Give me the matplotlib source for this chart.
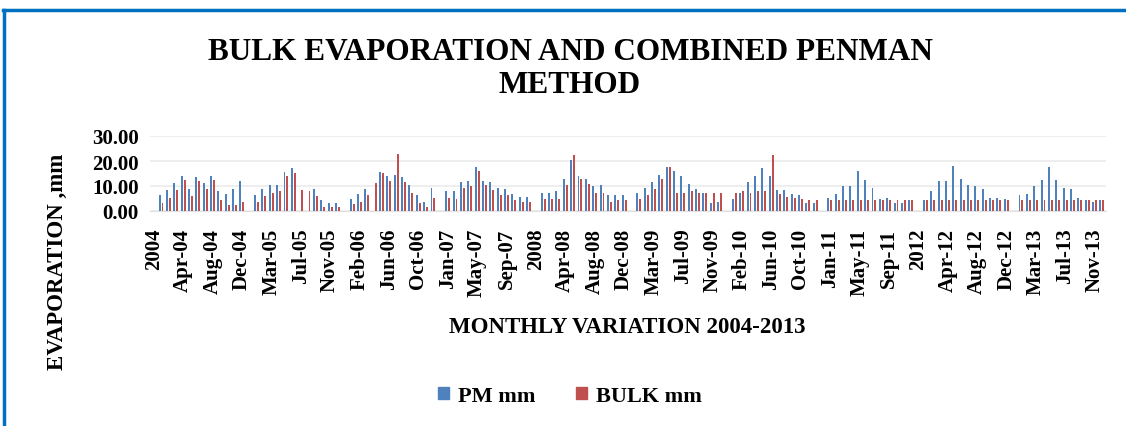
import numpy as np
import matplotlib
matplotlib.use("Agg")
import matplotlib.pyplot as plt
from matplotlib.patches import Patch
from matplotlib.lines import Line2D

nan = np.nan
years = [2004, 2005, 2006, 2007, 2008, 2009, 2010, 2011, 2012, 2013]
months = ["Jan", "Feb", "Mar", "Apr", "May", "Jun",
          "Jul", "Aug", "Sep", "Oct", "Nov", "Dec"]

# monthly evaporation (mm), one row per year
pm_mm = [
    [6.3, 8.3, 11.1, 14.0, 8.8, 13.5, 11.1, 14.0, 7.9, 6.8, 8.8, 12.0],
    [6.3, 8.8, 10.4, 10.4, 15.5, 17.1, nan, nan, 8.8, 4.3, 3.2, 3.2],
    [4.7, 6.8, 8.8, nan, 15.5, 14.0, 14.5, 13.5, 10.4, 6.3, 3.7, 9.3],
    [7.9, 7.9, 11.5, 11.9, 17.6, 11.9, 11.5, 9.3, 8.8, 6.8, 5.7, 5.7],
    [7.3, 7.3, 7.9, 12.9, 20.5, 14.0, 12.9, 9.9, 10.4, 6.3, 6.3, 6.3],
    [7.3, 9.3, 11.5, 14.5, 17.6, 16.0, 14.0, 10.9, 8.8, 7.3, 3.2, 3.7],
    [4.7, 7.3, 11.5, 14.0, 17.1, 14.0, 8.3, 8.3, 6.8, 6.3, 3.2, 3.2],
    [5.2, 6.8, 9.9, 9.9, 16.0, 12.4, 9.3, 4.7, 5.2, 3.2, 3.2, 4.3],
    [4.3, 7.9, 11.9, 11.9, 18.1, 12.9, 10.4, 9.9, 8.8, 5.2, 5.2, 4.7],
    [6.3, 6.8, 9.9, 12.4, 17.6, 12.4, 9.3, 8.8, 5.2, 4.3, 3.7, 4.3],
]
bulk_mm = [
    [3.2, 5.2, 8.3, 12.4, 5.9, 12.0, 8.8, 12.4, 4.3, 2.3, 2.3, 3.7],
    [3.7, 5.9, 7.3, 7.9, 14.0, 15.1, 8.3, 7.9, 5.9, 1.6, 1.6, 1.6],
    [2.7, 3.7, 6.3, 11.1, 15.1, 12.0, 22.8, 11.5, 7.3, 3.2, 1.6, 5.2],
    [5.2, 4.7, 9.3, 9.9, 16.0, 10.4, 8.3, 6.3, 6.3, 4.3, 3.7, 3.7],
    [4.7, 4.7, 4.7, 10.4, 22.3, 12.9, 10.9, 7.3, 7.3, 3.7, 4.3, 4.3],
    [4.7, 6.3, 8.8, 12.9, 17.6, 7.3, 7.3, 7.9, 7.3, 7.3, 7.3, 7.3],
    [7.3, 7.9, 7.3, 7.9, 7.9, 22.3, 6.8, 5.7, 5.2, 4.7, 4.3, 4.3],
    [4.3] * 12,
    [4.3] * 12,
    [4.3] * 12,
]

# excel-style category axis: a year header slot followed by 12 months
labels, pm, bulk = [], [], []
for y, p_row, b_row in zip(years, pm_mm, bulk_mm):
    labels.append(str(y))
    pm.append(nan)
    bulk.append(nan)
    for m, p, b in zip(months, p_row, b_row):
        labels.append("%s-%02d" % (m, y % 100))
        pm.append(p)
        bulk.append(b)
x = np.arange(len(labels))

serif = ["Liberation Serif", "DejaVu Serif"]
plt.rcParams["font.family"] = serif
plt.rcParams["font.weight"] = "bold"

fig = plt.figure(figsize=(11.26, 4.27), dpi=100)
ax = fig.add_axes([150 / 1126, 1 - 212 / 427, 955.5 / 1126, 75 / 427])

w = 0.27
blue = "#4F81BD"
red = "#C0504D"
ax.bar(x - 0.2, pm, width=w, color=blue, label="PM mm", zorder=3)
ax.bar(x + 0.2, bulk, width=w, color=red, label="BULK mm", zorder=3)

ax.set_xlim(-0.5, len(labels) - 0.5)
ax.set_ylim(0, 30)
ax.set_yticks([0, 10, 20, 30])
ax.set_yticklabels(["%.2f" % v for v in [0, 10, 20, 30]], fontsize=15, fontweight="bold")
ax.yaxis.grid(True, color="#EBEBEB", lw=1.2, zorder=0)
ax.set_xticks(x[::4])
ax.set_xticklabels(labels[::4], rotation=90, fontsize=15, fontweight="bold")
ax.tick_params(axis="both", length=0)
ax.tick_params(axis="x", pad=12)
ax.tick_params(axis="y", pad=8)
for s in ["top", "right", "left"]:
    ax.spines[s].set_visible(False)
ax.spines["bottom"].set_color("#E0E0E0")

fig.text(570 / 1126, 1 - 69 / 427, "BULK EVAPORATION AND COMBINED PENMAN\nMETHOD",
         ha="center", va="center", fontsize=22.5, fontweight="bold", linespacing=1.2)
fig.text(627 / 1126, 1 - 328 / 427, "MONTHLY VARIATION 2004-2013",
         ha="center", va="center", fontsize=16.5, fontweight="bold")
fig.text(57 / 1126, 1 - 262 / 427, "EVAPORATION ,mm", rotation=90,
         ha="center", va="center", fontsize=16.5, fontweight="bold")

handles = [Patch(color=blue, label="PM mm"), Patch(color=red, label="BULK mm")]
fig.legend(handles=handles, loc="center", bbox_to_anchor=(570 / 1126, 1 - 397 / 427),
           ncol=2, frameon=False, fontsize=16, handlelength=0.5, handleheight=0.5,
           handletextpad=0.4, columnspacing=1.8)

# blue frame around the chart
fig.add_artist(Line2D([3 / 1126, 1], [1 - 11 / 427, 1 - 11 / 427], color="#0070C0", lw=2.5))
fig.add_artist(Line2D([4 / 1126, 4 / 1126], [0, 1 - 11 / 427], color="#0070C0", lw=2.5))

fig.savefig("out.png", dpi=100)
